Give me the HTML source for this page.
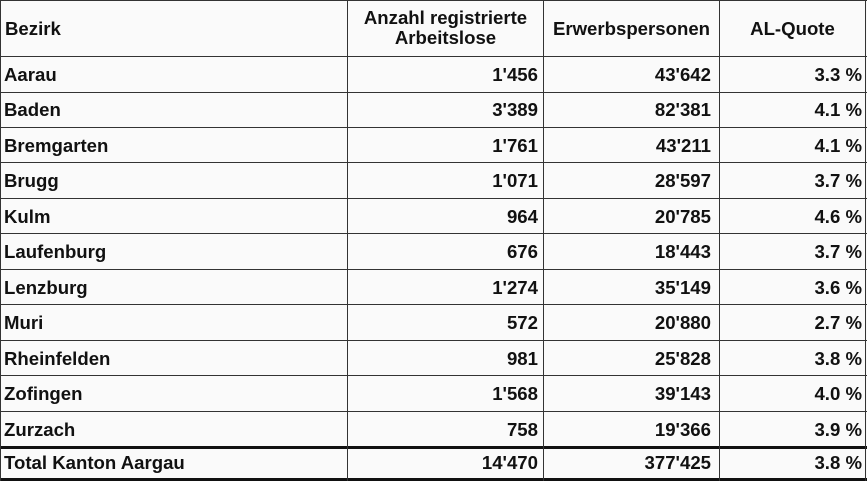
<!DOCTYPE html>
<html><head><meta charset="utf-8"><style>
body{margin:0;width:867px;height:481px;background:#fafafa;font-family:"Liberation Sans",Arial,sans-serif;font-weight:bold;font-size:18.6px;color:#111;position:relative;overflow:hidden}
.h{position:absolute;left:0;width:867px;height:1px;background:#333}
.v{position:absolute;top:0;width:1px;height:481px;background:#333}
.t{position:absolute;white-space:nowrap;line-height:20px}
.r{text-align:right}
.c{text-align:center}
</style></head><body>
<div class="h" style="top:0"></div>
<div class="h" style="top:56px"></div>
<div class="h" style="top:92px"></div>
<div class="h" style="top:127px"></div>
<div class="h" style="top:162px"></div>
<div class="h" style="top:198px"></div>
<div class="h" style="top:233px"></div>
<div class="h" style="top:269px"></div>
<div class="h" style="top:304px"></div>
<div class="h" style="top:340px"></div>
<div class="h" style="top:375px"></div>
<div class="h" style="top:411px"></div>
<div class="h" style="top:446px;height:3px;background:#111"></div>
<div class="h" style="top:478px;height:3px;background:#111"></div>
<div class="v" style="left:0"></div>
<div class="v" style="left:347px"></div>
<div class="v" style="left:543px"></div>
<div class="v" style="left:719px"></div>
<div class="v" style="left:865px"></div>

<div class="t" style="left:5px;top:19px">Bezirk</div>
<div class="t c" style="left:348px;width:195px;top:8px">Anzahl registrierte<br>Arbeitslose</div>
<div class="t c" style="left:544px;width:175px;top:19px">Erwerbspersonen</div>
<div class="t c" style="left:720px;width:145px;top:19px">AL-Quote</div>

<div id="rows"></div>
<script>
var d=[["Aarau","1'456","43'642","3.3 %"],["Baden","3'389","82'381","4.1 %"],["Bremgarten","1'761","43'211","4.1 %"],["Brugg","1'071","28'597","3.7 %"],["Kulm","964","20'785","4.6 %"],["Laufenburg","676","18'443","3.7 %"],["Lenzburg","1'274","35'149","3.6 %"],["Muri","572","20'880","2.7 %"],["Rheinfelden","981","25'828","3.8 %"],["Zofingen","1'568","39'143","4.0 %"],["Zurzach","758","19'366","3.9 %"],["Total Kanton Aargau","14'470","377'425","3.8 %"]];
var h="";
for(var i=0;i<d.length;i++){var y=(i<11?65+i*35.45:453);
h+='<div class="t" style="left:4px;top:'+y+'px">'+d[i][0]+'</div>';
h+='<div class="t r" style="left:348px;width:190px;top:'+y+'px">'+d[i][1]+'</div>';
h+='<div class="t r" style="left:544px;width:167px;top:'+y+'px">'+d[i][2]+'</div>';
h+='<div class="t r" style="left:720px;width:142px;top:'+y+'px">'+d[i][3]+'</div>';}
document.getElementById("rows").innerHTML=h;
</script>
</body></html>
